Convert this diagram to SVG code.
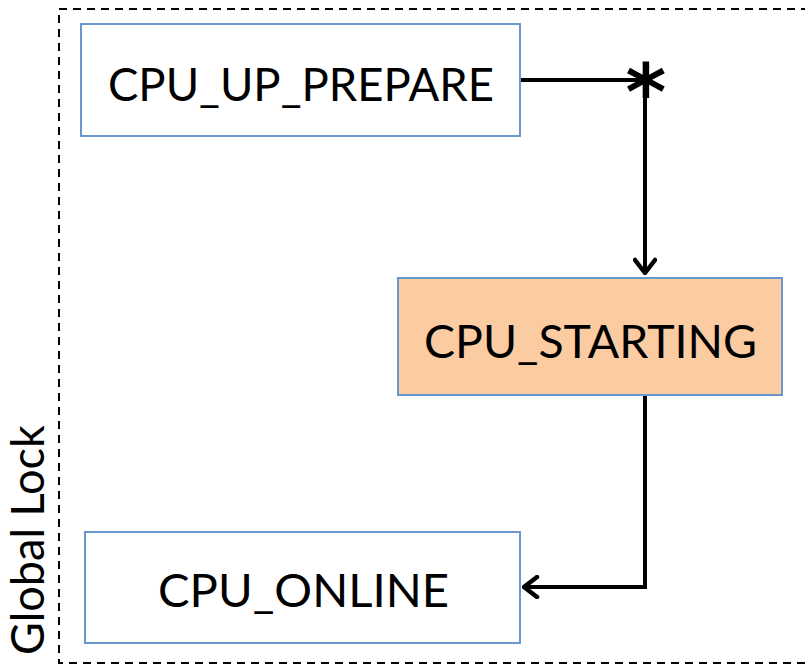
<svg xmlns="http://www.w3.org/2000/svg" width="805" height="665" viewBox="0 0 805 665">
  <style>
    .box { fill: #ffffff; stroke: #6a98cc; stroke-width: 2; }
    .hot { fill: #fbcba2; }
    .label { font-family: Lato, "Open Sans", sans-serif; font-size: 46px; fill: #000; text-anchor: middle; }
    .wire { fill: none; stroke: #000; stroke-width: 4; }
    .frame { fill: none; stroke: #000; stroke-width: 2; stroke-dasharray: 8 6; }
  </style>
  <defs>
    <marker id="arrow" viewBox="0 0 18 24" refX="16" refY="12" markerWidth="18" markerHeight="24" markerUnits="userSpaceOnUse" orient="auto">
      <path d="M3,2 L16,12 L3,22" fill="none" stroke="#000" stroke-width="4.5" stroke-linecap="round" stroke-linejoin="round"/>
    </marker>
  </defs>

  <!-- lock region -->
  <rect class="frame" x="59" y="9" width="760" height="654"/>
  <text class="label" transform="translate(44,540) rotate(-90)" font-size="42" textLength="230" lengthAdjust="spacingAndGlyphs">Global Lock</text>

  <g id="connectors">
    <path class="wire" d="M520,80 H645 V273" marker-end="url(#arrow)"/>
    <path class="wire" d="M645,395 V587 H524" marker-end="url(#arrow)"/>
    <text x="646" y="120" font-family="'DejaVu Sans', sans-serif" font-weight="bold" font-size="78" text-anchor="middle">*</text>
  </g>

  <g id="cpu-up-prepare">
    <rect class="box" x="81" y="24" width="439" height="112"/>
    <text class="label" x="301" y="101" textLength="386" lengthAdjust="spacingAndGlyphs">CPU_UP_PREPARE</text>
  </g>

  <g id="cpu-starting">
    <rect class="box hot" x="398" y="278" width="384" height="117"/>
    <text class="label" x="590.5" y="358" textLength="333" lengthAdjust="spacingAndGlyphs">CPU_STARTING</text>
  </g>

  <g id="cpu-online">
    <rect class="box" x="85" y="532" width="435" height="111"/>
    <text class="label" x="303.5" y="607" textLength="291" lengthAdjust="spacingAndGlyphs">CPU_ONLINE</text>
  </g>
</svg>
